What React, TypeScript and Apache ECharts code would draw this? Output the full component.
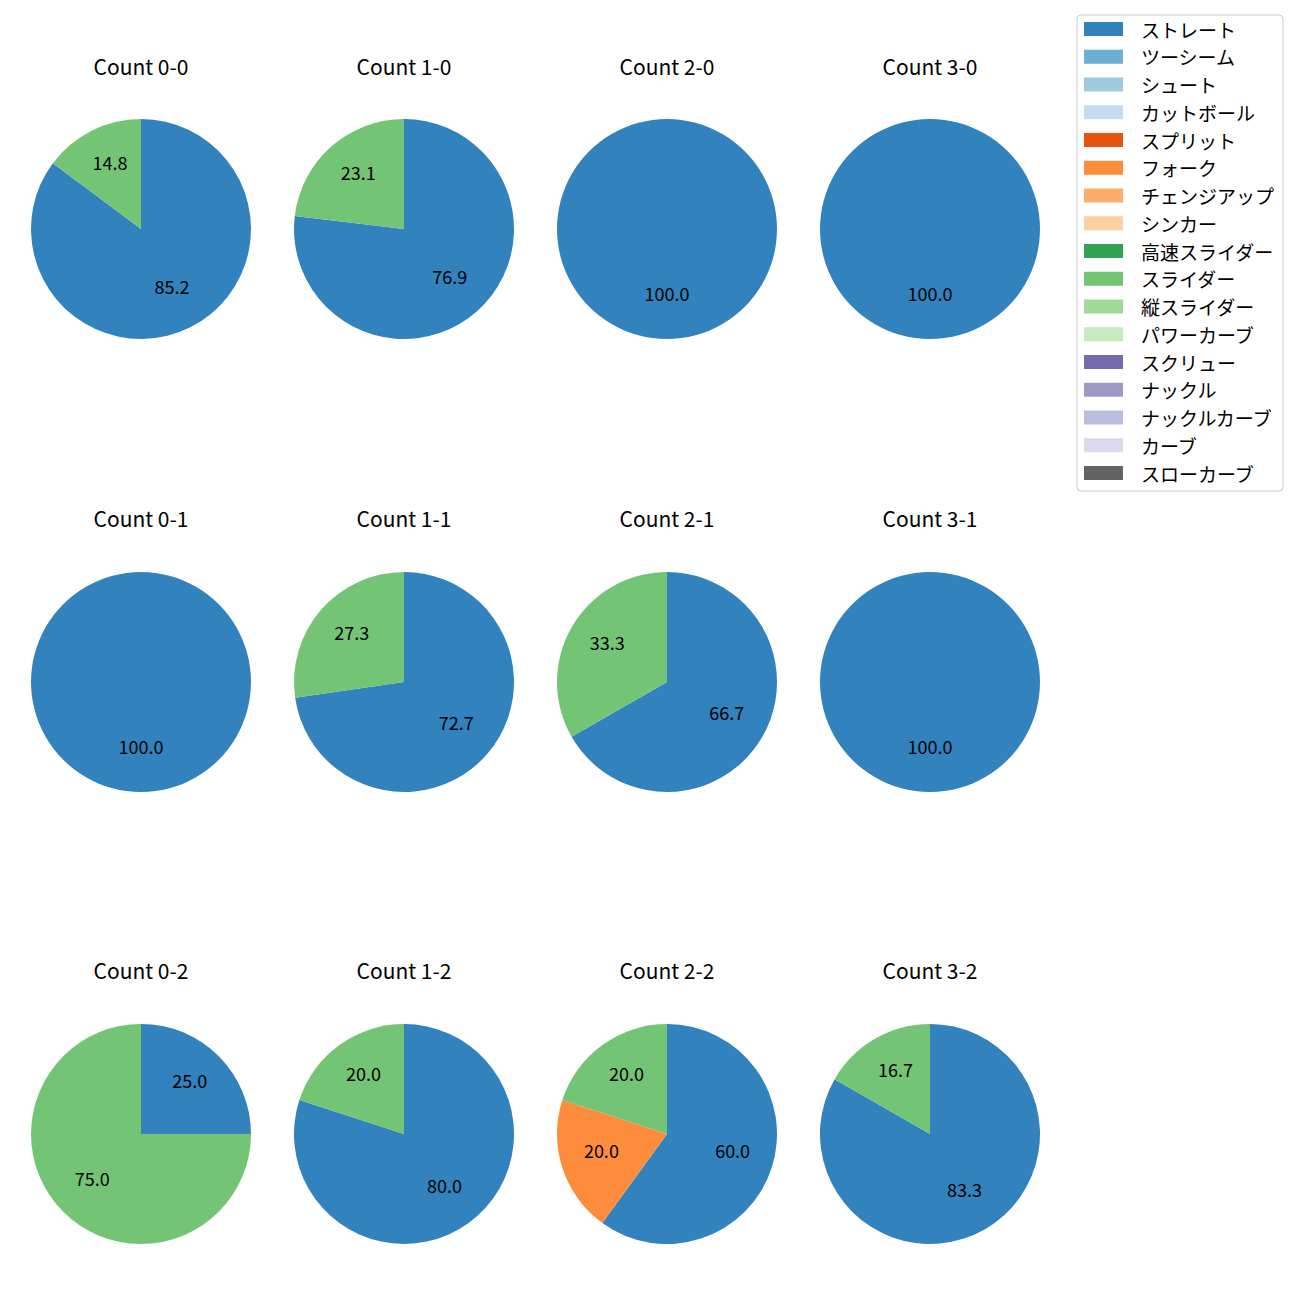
import React, { useEffect, useRef } from "react";
import * as echarts from "echarts";

const pitchTypes = [
  "ストレート", "ツーシーム", "シュート", "カットボール", "スプリット", "フォーク",
  "チェンジアップ", "シンカー", "高速スライダー", "スライダー", "縦スライダー",
  "パワーカーブ", "スクリュー", "ナックル", "ナックルカーブ", "カーブ", "スローカーブ",
];
const pitchColors = [
  "#3182bd", "#6baed6", "#9ecae1", "#c6dbef", "#e6550d", "#fd8d3c", "#fdae6b", "#fdd0a2",
  "#31a354", "#74c476", "#a1d99b", "#c7e9c0", "#756bb1", "#9e9ac8", "#bcbddc", "#dadaeb", "#636363",
];

const countTitles = [
  "Count 0-0", "Count 1-0", "Count 2-0", "Count 3-0",
  "Count 0-1", "Count 1-1", "Count 2-1", "Count 3-1",
  "Count 0-2", "Count 1-2", "Count 2-2", "Count 3-2",
];
// percentages per count, keyed by pitch name
const countNames: string[][] = [
  ["ストレート", "スライダー"], ["ストレート", "スライダー"], ["ストレート"], ["ストレート"],
  ["ストレート"], ["ストレート", "スライダー"], ["ストレート", "スライダー"], ["ストレート"],
  ["ストレート", "スライダー"], ["ストレート", "スライダー"], ["ストレート", "フォーク", "スライダー"], ["ストレート", "スライダー"],
];
const countValues: number[][] = [
  [85.2, 14.8], [76.9, 23.1], [100], [100],
  [100], [72.7, 27.3], [66.7, 33.3], [100],
  [25.0, 75.0], [80.0, 20.0], [60.0, 20.0, 20.0], [83.3, 16.7],
];

const colCenters = [141, 404, 667, 930];
const rowCenters = [229, 682, 1134];
const titleY = [69, 521, 973];
const R = 110;
const FONT = "'Noto Sans CJK JP', 'Noto Sans', sans-serif";

function colorOf(name: string) {
  return pitchColors[pitchTypes.indexOf(name)];
}

export default function App() {
  const ref = useRef<HTMLDivElement>(null);
  useEffect(() => {
    document.body.style.margin = "0";
    const chart = echarts.init(ref.current!, undefined, { renderer: "svg" });
    const series: any[] = [
      {
        type: "pie",
        name: "legend",
        radius: 0,
        center: [-100, -100],
        silent: true,
        stillShowZeroSum: false,
        label: { show: false },
        labelLine: { show: false },
        data: pitchTypes.map((n, i) => ({ name: n, value: 0, itemStyle: { color: pitchColors[i] } })),
      },
    ];
    const titles: any[] = [];
    countTitles.forEach((t, k) => {
      const c = colCenters[k % 4];
      const r = rowCenters[Math.floor(k / 4)];
      titles.push({
        text: t,
        left: c,
        top: titleY[Math.floor(k / 4)] - 14,
        textAlign: "center",
        padding: 0,
        textStyle: { fontFamily: FONT, fontSize: 21, fontWeight: "normal", color: "#000" },
      });
      const data = countNames[k].map((n, i) => ({
        name: n,
        value: countValues[k][i],
        itemStyle: { color: colorOf(n) },
      }));
      series.push({
        type: "pie",
        center: [c, r],
        radius: R,
        startAngle: 90,
        clockwise: true,
        silent: true,
        avoidLabelOverlap: false,
        label: { show: false },
        labelLine: { show: false },
        itemStyle: { borderWidth: 0 },
        data,
      });
      // transparent ring so that inside labels sit at 0.6 of the radius
      series.push({
        type: "pie",
        center: [c, r - 5],
        radius: R * 1.2,
        startAngle: 90,
        clockwise: true,
        silent: true,
        avoidLabelOverlap: false,
        label: {
          show: true,
          position: "inside",
          formatter: (p: any) => Number(p.value).toFixed(1),
          color: "#000",
          fontFamily: FONT,
          fontSize: 18,
        },
        labelLine: { show: false },
        itemStyle: { color: "rgba(0,0,0,0)", borderWidth: 0 },
        data: data.map((d) => ({ name: d.name, value: d.value, itemStyle: { color: "rgba(0,0,0,0)" } })),
      });
    });
    chart.setOption({
      animation: false,
      backgroundColor: "#fff",
      title: titles,
      legend: {
        orient: "vertical",
        left: 1077,
        top: 15,
        data: pitchTypes,
        icon: "rect",
        itemWidth: 39,
        itemHeight: 14,
        itemGap: 8.75,
        padding: [4.5, 9, 8.5, 7],
        borderColor: "#cccccc",
        borderWidth: 1,
        borderRadius: 4,
        selectedMode: false,
        textStyle: {
          fontFamily: FONT,
          fontSize: 19,
          color: "#000",
          lineHeight: 14,
          padding: [0, 0, 0, 13],
        },
      },
      series,
    });
    return () => chart.dispose();
  }, []);
  return <div ref={ref} style={{ width: 1300, height: 1300 }} />;
}
